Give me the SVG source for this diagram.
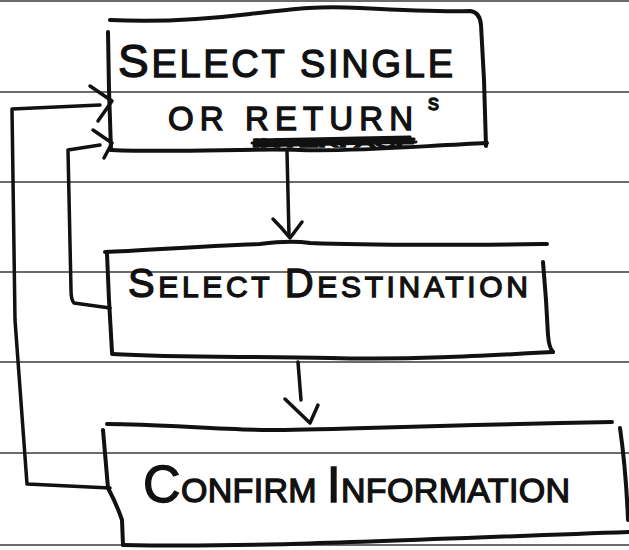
<svg xmlns="http://www.w3.org/2000/svg" width="629" height="550" viewBox="0 0 629 550">
<style>
.rule{stroke:#3a3a3a;stroke-width:1.6;fill:none}
.pen{stroke:#111;stroke-width:4;fill:none;stroke-linecap:round;stroke-linejoin:round}
.con{stroke:#111;stroke-width:3.5;fill:none;stroke-linecap:round;stroke-linejoin:round}
.hand{font-family:"Liberation Sans",Arial,sans-serif;fill:#111;stroke:#111;stroke-width:1.3;font-weight:normal}
</style>
<rect width="629" height="550" fill="#fff"/>
<g id="paper">
<line class="rule" x1="0" y1="1" x2="629" y2="1"/>
<line class="rule" x1="0" y1="92" x2="629" y2="92"/>
<line class="rule" x1="0" y1="182" x2="629" y2="182"/>
<line class="rule" x1="0" y1="272" x2="629" y2="272"/>
<line class="rule" x1="0" y1="362" x2="629" y2="362"/>
<line class="rule" x1="0" y1="453" x2="629" y2="453"/>
<line class="rule" x1="0" y1="545" x2="629" y2="545"/>
</g>
<g id="node-select-single">
<path class="pen" d="M110,20 C150,22 200,20 250,14 S320,6 360,8 S440,12 470,11 Q480,12 481,25 L484,80 L486,146"/>
<path class="pen" d="M108,32 L109,90 L111,150"/>
<path class="pen" d="M111,150 C180,153 250,148 300,150 S420,146 487,143"/>
<text class="hand" x="118" y="77" textLength="335" lengthAdjust="spacing"><tspan font-size="46">S</tspan><tspan font-size="38">ELECT SINGLE</tspan></text>
<text class="hand" x="168" y="130" font-size="33" textLength="245" lengthAdjust="spacing">OR RETURN</text>
<text class="hand" x="428" y="110" font-size="22">s</text>
<text class="hand" x="252" y="147" font-size="11" stroke-width="1" textLength="163" lengthAdjust="spacingAndGlyphs">INTERFACE</text>
<path stroke="#111" stroke-width="3" fill="none" stroke-linecap="round" d="M252,143 L414,139 M254,146 L416,142 M256,140 L410,137"/>
</g>
<g id="node-select-destination">
<path class="pen" d="M105,252 C150,250 200,246 260,244 Q290,240 310,243 C380,246 460,245 547,244"/>
<path class="pen" d="M543,262 L546,300 L548,335 Q549,348 553,352"/>
<path class="pen" d="M107,254 L109,300 L112,352"/>
<path class="pen" d="M112,354 C180,358 250,356 330,358 S480,356 553,352"/>
<text class="hand" x="128" y="297" textLength="400" lengthAdjust="spacing"><tspan font-size="40">S</tspan><tspan font-size="30">ELECT </tspan><tspan font-size="40">D</tspan><tspan font-size="30">ESTINATION</tspan></text>
</g>
<g id="node-confirm-information">
<path class="pen" d="M107,424 C160,424 220,430 270,430 S400,426 612,422"/>
<path class="pen" d="M103,430 L108,488 Q117,505 122,520 L123,545"/>
<path class="pen" d="M620,428 Q626,470 628,520"/>
<path class="pen" d="M123,545 C250,548 400,540 629,532"/>
<text class="hand" x="143" y="502" textLength="427" lengthAdjust="spacing"><tspan font-size="52">C</tspan><tspan font-size="34">ONFIRM </tspan><tspan font-size="50">I</tspan><tspan font-size="34">NFORMATION</tspan></text>
</g>
<g id="connectors">
<path class="con" d="M287,152 L289,236"/>
<path class="con" d="M273,219 Q282,228 290,238 L302,222"/>
<path class="con" d="M298,362 L301,400"/>
<path class="con" d="M285,399 L310,423 L318,405"/>
<path class="con" d="M110,308 L74,303 Q71,300 71,290 L68,150 L100,145"/>
<path class="con" d="M93,130 L112,143 L104,158"/>
<path class="con" d="M110,488 L27,484 L15,320 L12,109 L100,105"/>
<path class="con" d="M90,86 L112,101 L98,121"/>
</g>
</svg>
